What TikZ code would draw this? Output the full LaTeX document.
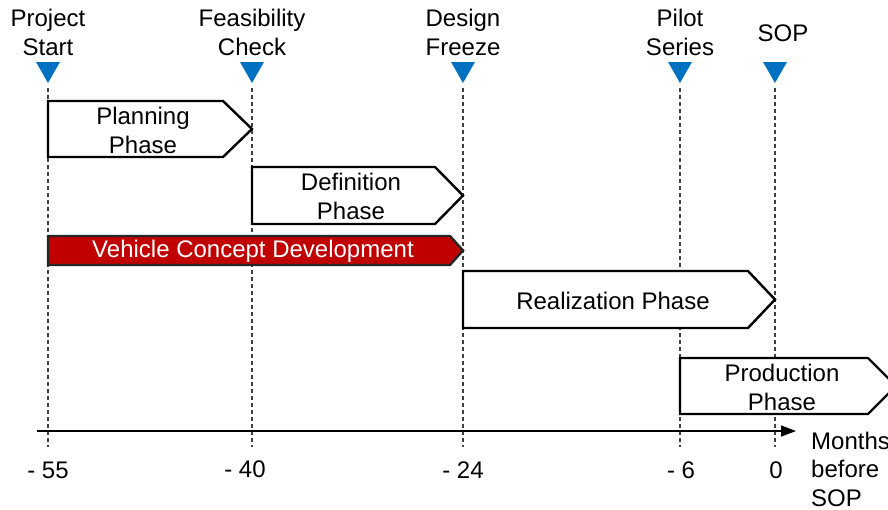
\documentclass[tikz,border=0pt]{standalone}
\usepackage{fontspec}
\setmainfont{Liberation Sans}
\usetikzlibrary{arrows.meta}
\definecolor{msblue}{HTML}{0070C0}
\definecolor{concept}{HTML}{C00000}
\tikzset{
  phase/.style={draw=black, line width=2.4pt, fill=white, line join=miter},
  conceptbar/.style={draw=black!85, line width=2.4pt, fill=concept, line join=miter},
  lbl/.style={align=center, inner sep=0pt, font=\fontsize{24}{29}\selectfont},
  guide/.style={draw=black!75, line width=1.1pt, dash pattern=on 4pt off 3pt},
  milestone/.style={fill=msblue},
  axis/.style={draw=black, line width=1.3pt, -{Triangle[length=15pt,width=11pt]}},
}
\begin{document}
\begin{tikzpicture}[x=1pt,y=-1pt]
\useasboundingbox (0,0) rectangle (888,509);
\clip (0,0) rectangle (888,509);

% milestone markers and their guide lines
\foreach \name/\x in {ms1/48, ms2/252, ms3/463, ms4/680, ms5/775}{
  \fill[milestone] (\x-12,62) -- (\x+12,62) -- (\x,83) -- cycle;
  \coordinate (\name top) at (\x,88);
  \coordinate (\name bot) at (\x,447);
  \draw[guide] (\name top) -- (\name bot);
}

% milestone labels
\node[lbl] (t1) at (48,32) {Project\\Start};
\node[lbl] (t2) at (252,32) {Feasibility\\Check};
\node[lbl] (t3) at (463,32) {Design\\Freeze};
\node[lbl] (t4) at (680,32) {Pilot\\Series};
\node[lbl] (t5) at (783,33) {SOP};

% phase arrows
\draw[phase] (48,101) -- (223,101) -- (252,129) -- (223,157) -- (48,157) -- cycle;
\node[lbl] (planning) at (143,130) {Planning\\Phase};

\draw[phase] (252,167) -- (435,167) -- (463,195.5) -- (435,224) -- (252,224) -- cycle;
\node[lbl] (definition) at (351,196) {Definition\\Phase};

\draw[conceptbar] (48,236) -- (450,236) -- (463,250.5) -- (450,265) -- (48,265) -- cycle;
\node[lbl, text=white] (concept) at (253,251) {Vehicle Concept Development};

\draw[phase] (463,271) -- (748,271) -- (775,299.5) -- (748,328) -- (463,328) -- cycle;
\node[lbl] (realization) at (613,301) {Realization Phase};

\draw[phase] (680,358) -- (868,358) -- (896,386) -- (868,414) -- (680,414) -- cycle;
\node[lbl] (production) at (782,387) {Production\\Phase};

% time axis
\coordinate (axstart) at (37,431);
\coordinate (axend) at (796,431);
\draw[axis] (axstart) -- (axend);

\node[lbl] (v55) at (48,470) {- 55};
\node[lbl] (v40) at (245,469) {- 40};
\node[lbl] (v24) at (463,470) {- 24};
\node[lbl] (v6) at (681,470) {- 6};
\node[lbl] (v0) at (776,470) {0};
\node[lbl, align=left, anchor=west, font=\fontsize{24}{28.5}\selectfont] (unit) at (811,469) {Months\\before\\SOP};
\end{tikzpicture}
\end{document}
